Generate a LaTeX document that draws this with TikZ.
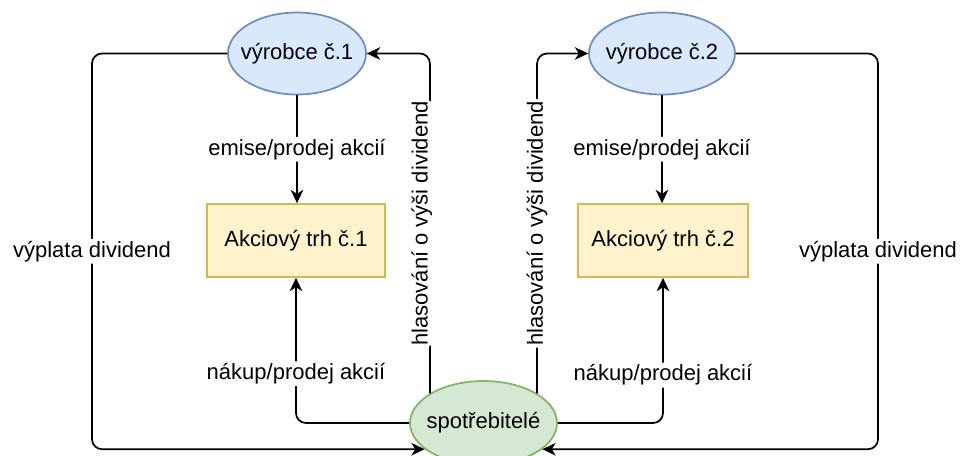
\documentclass[tikz,border=0pt]{standalone}
\usepackage{fontspec}
\setmainfont{Liberation Sans}
\usetikzlibrary{shapes.geometric,arrows.meta}
\newlength\px
\setlength\px{0.75pt}
\definecolor{prodFill}{HTML}{DAE8FC}
\definecolor{prodLine}{HTML}{6C8EBF}
\definecolor{mktFill}{HTML}{FFF2CC}
\definecolor{mktLine}{HTML}{D6B656}
\definecolor{consFill}{HTML}{D5E8D4}
\definecolor{consLine}{HTML}{82B366}
\begin{document}
\begin{tikzpicture}[x=0.75pt, y=-0.75pt,
  every node/.style={font=\fontsize{16.5}{20}\selectfont, text=black},
  producer/.style={ellipse, draw=prodLine, fill=prodFill, line width=1.3pt,
    minimum height=82\px, inner sep=0pt},
  consumer/.style={ellipse, draw=consLine, fill=consFill, line width=1.3pt,
    minimum width=147\px, minimum height=84\px, inner sep=0pt},
  market/.style={rectangle, draw=mktLine, fill=mktFill, line width=1.3pt,
    minimum height=73\px, inner sep=0pt},
  conn/.style={draw=black, line width=1.3pt, rounded corners=7.5pt,
    -{Stealth[length=10pt, width=9.5pt, inset=3pt]}},
  lbl/.style={fill=white, inner sep=1.5pt}]
  \useasboundingbox (0,0) rectangle (960,455);
  \clip (0,0) rectangle (960,455);

  % nodes
  \node[producer, minimum width=138\px] (v1) at (297,53.5) {\makebox[0pt]{výrobce č.1}};
  \node[producer, minimum width=146\px] (v2) at (662,53.5) {\makebox[0pt]{výrobce č.2}};
  \node[market, minimum width=178\px] (a1) at (296,240.5) {Akciový trh č.1};
  \node[market, minimum width=170\px] (a2) at (663,240.5) {Akciový trh č.2};
  \node[consumer] (sp) at (483.5,423) {\makebox[0pt]{spotřebitelé}};

  % outer dividend routes
  \coordinate (L) at (92,250);
  \coordinate (R) at (878,250);

  % issuing shares
  \draw[conn] (v1.south) -- node[lbl, midway]{emise/prodej akcií} (v1.south |- a1.north);
  \draw[conn] (v2.south) -- node[lbl, midway]{emise/prodej akcií} (v2.south |- a2.north);

  % buying / selling shares
  \draw[conn] (sp.west) -| node[lbl, pos=0.67]{nákup/prodej akcií} (a1.south);
  \draw[conn] (sp.east) -| node[lbl, pos=0.665]{nákup/prodej akcií} (a2.south);

  % dividend payments
  \draw[conn] (v1.west) -- (v1.west -| L) -- node[lbl, midway]{výplata dividend} (L |- sp.204) -- (sp.204);
  \draw[conn] (v2.east) -- (v2.east -| R) -- node[lbl, midway]{výplata dividend} (R |- sp.-24) -- (sp.-24);

  % voting on dividends
  \draw[conn] (sp.151) -- node[lbl, midway, xshift=-6pt, rotate=90]{hlasování o výši dividend} (sp.151 |- v1.east) -- (v1.east);
  \draw[conn] (sp.29) -- node[lbl, midway, rotate=90]{hlasování o výši dividend} (sp.29 |- v2.west) -- (v2.west);
\end{tikzpicture}
\end{document}
